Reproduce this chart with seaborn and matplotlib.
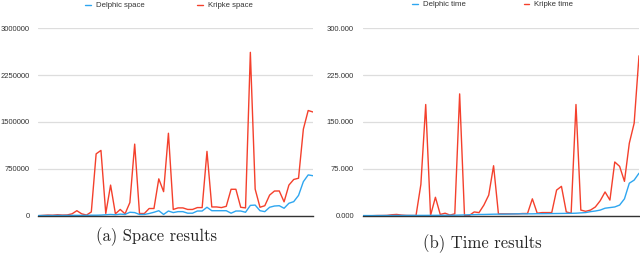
import numpy as np
import pandas as pd
import matplotlib
matplotlib.use("Agg")
import matplotlib.pyplot as plt
from matplotlib.lines import Line2D
import seaborn as sns

# ---------------- data ----------------
delphic_space = [2000, 3000, 4000, 3000, 5000, 4000, 5000, 6000, 6000, 5000,
                 6000, 8000, 8000, 10000, 15000, 20000, 15000, 25000, 20000, 55000,
                 50000, 20000, 20000, 35000, 55000, 80000, 20000, 75000, 50000, 65000,
                 65000, 40000, 40000, 75000, 75000, 135000, 80000, 80000, 80000, 80000,
                 40000, 75000, 75000, 55000, 165000, 170000, 80000, 65000, 135000, 155000,
                 160000, 119000, 199000, 225000, 325000, 545000, 653000, 640000]
kripke_space = [0, 5000, 10000, 8000, 15000, 10000, 12000, 30000, 80000, 30000,
                10000, 60000, 990000, 1045000, 35000, 490000, 30000, 100000, 30000, 210000,
                1146000, 35000, 35000, 115000, 115000, 590000, 385000, 1320000, 100000, 125000,
                125000, 100000, 100000, 130000, 130000, 1030000, 140000, 140000, 130000, 150000,
                423000, 423000, 135000, 125000, 2615000, 425000, 135000, 160000, 330000, 395000,
                396000, 222000, 490000, 580000, 600000, 1386000, 1684000, 1660000]
delphic_time = [0.2, 0.2, 0.2, 0.2, 0.3, 0.3, 0.4, 0.4, 0.4, 0.4,
                0.5, 0.5, 0.5, 0.5, 0.6, 0.6, 0.7, 0.7, 0.8, 0.8,
                1.0, 1.2, 1.5, 1.7, 2.0, 2.0, 2.2, 2.4, 2.5, 2.5,
                2.6, 2.8, 3.0, 3.0, 3.0, 3.0, 3.2, 3.2, 3.3, 3.4,
                3.5, 3.6, 3.7, 3.8, 4.0, 4.5, 5.0, 6.5, 7.5, 9.0,
                12.0, 13.0, 14.0, 17.0, 27.0, 52.0, 57.0, 68.0]
kripke_time = [0, 0, 0, 0.3, 0.3, 0.5, 1.5, 2, 1, 0.5,
               0.3, 0.3, 50, 178, 0.5, 29.5, 2, 4, 1, 3,
               195, 0.3, 0.5, 6, 5, 17, 33, 80, 3, 3,
               3, 3, 3, 3.5, 3.5, 27, 4, 5, 5, 5,
               41, 47, 6, 4, 178, 9, 7, 9, 14, 24,
               38, 25, 86, 79, 55, 116, 148, 256]

space_ticks = [0, 750000, 1500000, 2250000, 3000000]
space_labels = ["0", "750000", "1500000", "2250000", "3000000"]
time_ticks = [0, 75, 150, 225, 300]
time_labels = ["0.000", "75.000", "150.000", "225.000", "300.000"]

space_series = ["Delphic space", "Kripke space"]
time_series = ["Delphic time", "Kripke time"]
captions = ["(a) Space results", "(b) Time results"]

BLUE = "#2ea6f0"
RED = "#f4402c"

sns.set_style("white")
plt.rcParams['font.family'] = ['Liberation Sans', 'DejaVu Sans']

fig = plt.figure(figsize=(6.4, 2.54), dpi=100)
W, H = 640, 254

def px_axes(x0, x1, ytop, ybot):
    return fig.add_axes([x0 / W, 1 - ybot / H, (x1 - x0) / W, (ybot - ytop) / H])

ax1 = px_axes(38.3, 313.0, 28.3, 215.7)
ax2 = px_axes(362.7, 639.0, 28.3, 215.7)

def draw(ax, a, b, names, ticks, labels, pad):
    n = len(a)
    df = pd.DataFrame({
        "idx": list(range(n)) * 2,
        "value": list(a) + list(b),
        "series": [names[0]] * n + [names[1]] * n,
    })
    sns.lineplot(data=df, x="idx", y="value", hue="series",
                 palette={names[0]: BLUE, names[1]: RED},
                 hue_order=[names[1], names[0]],
                 linewidth=1.0, legend=False, ax=ax)
    ax.set_xlim(0, n - 1)
    ax.set_ylim(0, ticks[-1])
    ax.set_yticks(ticks)
    ax.set_yticklabels(labels, fontsize=5.5, color="#333333")
    ax.set_xticks([])
    ax.set_xlabel("")
    ax.set_ylabel("")
    ax.tick_params(axis="y", length=0, pad=pad)
    for s in ["top", "right", "left"]:
        ax.spines[s].set_visible(False)
    ax.spines["bottom"].set_color("#333333")
    ax.spines["bottom"].set_linewidth(1.0)
    ax.grid(axis="y", color="#dddddd", linewidth=0.9)
    ax.set_axisbelow(True)
    ax.set_facecolor("none")

draw(ax1, delphic_space, kripke_space, space_series, space_ticks, space_labels, 6.0)
draw(ax2, delphic_time, kripke_time, time_series, time_ticks, time_labels, 6.3)

def legend(names, x_left, y_center, colsp):
    handles = [Line2D([], [], color=BLUE, linewidth=1.0),
               Line2D([], [], color=RED, linewidth=1.0)]
    fig.legend(handles, names, loc="center left",
               bbox_to_anchor=(x_left / W, 1 - y_center / H),
               ncol=2, frameon=False, fontsize=5.6, handlelength=0.74,
               handletextpad=0.65, columnspacing=colsp, borderpad=0,
               borderaxespad=0, labelcolor="#333333")

legend(space_series, 85, 5.7, 6.76)
legend(time_series, 412.3, 4.5, 7.4)

fig.text(156.7 / W, 1 - 237 / H, captions[0], ha="center", va="center",
         fontsize=12, family="cmr10")
fig.text(482 / W, 1 - 243.7 / H, captions[1], ha="center", va="center",
         fontsize=12, family="cmr10")

fig.savefig("out.png", dpi=100)
